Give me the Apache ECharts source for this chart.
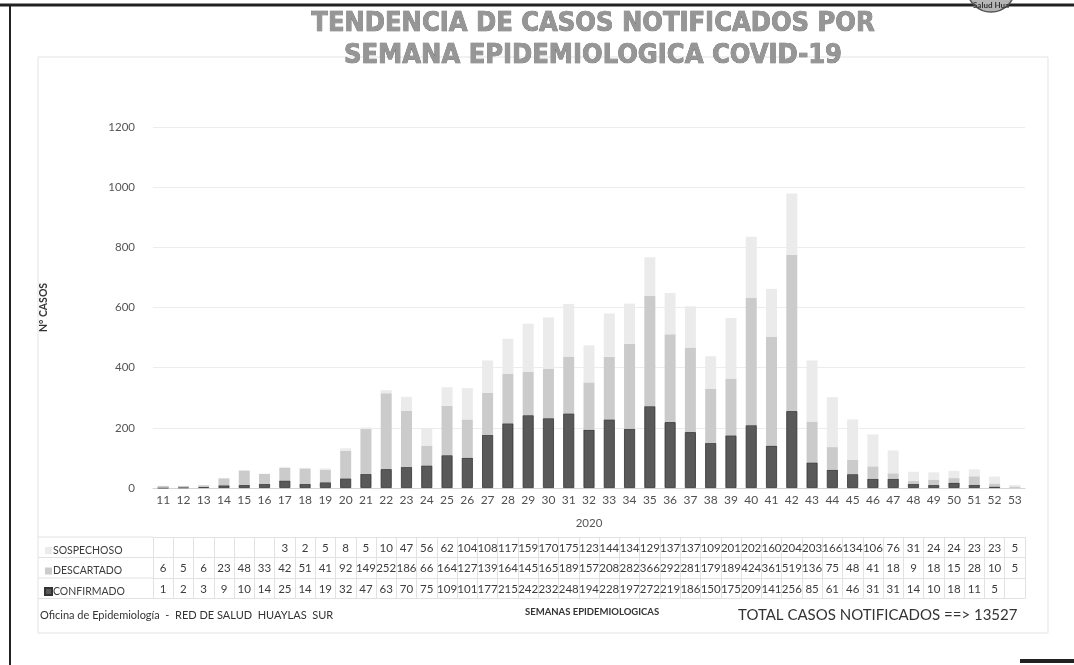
<!DOCTYPE html>
<html>
<head>
<meta charset="utf-8">
<script src="https://cdn.jsdelivr.net/npm/echarts@6/dist/echarts.min.js"></script>
<style>
  html, body { margin: 0; padding: 0; background: #fff; }
  #chart { width: 1074px; height: 665px; }
</style>
</head>
<body>
<div id="chart"></div>
<script>
// Semanas epidemiológicas 2020
const semanas = ['11','12','13','14','15','16','17','18','19','20','21','22','23','24','25','26','27','28','29','30','31','32','33','34','35','36','37','38','39','40','41','42','43','44','45','46','47','48','49','50','51','52','53'];

const confirmado = [1,2,3,9,10,14,25,14,19,32,47,63,70,75,109,101,177,215,242,232,248,194,228,197,272,219,186,150,175,209,141,256,85,61,46,31,31,14,10,18,11,5,null];
const descartado = [6,5,6,23,48,33,42,51,41,92,149,252,186,66,164,127,139,164,145,165,189,157,208,282,366,292,281,179,189,424,361,519,136,75,48,41,18,9,18,15,28,10,5];
const sospechoso = [null,null,null,null,null,null,3,2,5,8,5,10,47,56,62,104,108,117,159,170,175,123,144,134,129,137,137,109,201,202,160,204,203,166,134,106,76,31,24,24,23,23,5];

const yTicks = { min: 0, max: 1200, interval: 200 };
const totalNotificados = 13527;

const FONT = 'Lato';
const TABLE_LINE = '#e2e2e2';

// one data-table row under the plot, drawn as an extra category axis
function tableRow(values, offset, withTicks) {
  return {
    type: 'category',
    data: semanas,
    gridIndex: 0,
    position: 'bottom',
    offset: offset,
    axisLine: { show: true, lineStyle: { color: TABLE_LINE, width: 1 } },
    axisTick: { show: withTicks, length: 20.5, interval: 0, lineStyle: { color: TABLE_LINE } },
    axisLabel: {
      show: values !== null,
      interval: 0,
      margin: 5,
      fontFamily: FONT,
      fontSize: 11.5,
      color: '#3c3c3c',
      formatter: (v, i) => (values && values[i] != null ? String(values[i]) : '')
    },
    splitLine: { show: false },
    axisPointer: { show: false }
  };
}

const chart = echarts.init(document.getElementById('chart'), null, { renderer: 'canvas' });

chart.setOption({
  backgroundColor: '#ffffff',
  animation: false,
  title: {
    text: 'TENDENCIA DE CASOS NOTIFICADOS POR\nSEMANA EPIDEMIOLOGICA COVID-19',
    left: 588,
    textAlign: 'center',
    top: 3,
    textStyle: {
      fontFamily: 'DejaVu Sans Condensed',
      fontWeight: 'bold',
      fontSize: 27,
      lineHeight: 32,
      color: '#969696',
      textBorderColor: '#666',
      textBorderWidth: 0.7
    }
  },
  legend: {
    orient: 'vertical',
    left: 39,
    top: 539,
    itemWidth: 7,
    itemHeight: 7,
    itemGap: 7.5,
    icon: 'rect',
    data: ['SOSPECHOSO', 'DESCARTADO', 'CONFIRMADO'],
    textStyle: { fontFamily: FONT, fontSize: 10.5, lineHeight: 13, color: '#3c3c3c', padding: [0, 0, 0, -4] },
    selectedMode: false
  },
  grid: { left: 153, right: 49, top: 127, bottom: 177, containLabel: false },
  xAxis: [
    {
      type: 'category',
      data: semanas,
      name: '2020',
      nameLocation: 'middle',
      nameGap: 29,
      nameTextStyle: { fontFamily: FONT, fontSize: 11.5, color: '#555' },
      axisLine: { lineStyle: { color: '#d4d4d4' } },
      axisTick: { show: false },
      axisLabel: { interval: 0, margin: 6, fontFamily: FONT, fontSize: 12, color: '#505050' }
    },
    tableRow(sospechoso, 49, true),
    tableRow(descartado, 69.5, true),
    tableRow(confirmado, 90, true),
    tableRow(null, 110.5, false)
  ],
  yAxis: {
    type: 'value',
    min: yTicks.min,
    max: yTicks.max,
    interval: yTicks.interval,
    name: 'N° CASOS',
    nameLocation: 'middle',
    nameRotate: 90,
    nameGap: 104,
    nameTextStyle: { fontFamily: FONT, fontSize: 10.5, fontWeight: 'bold', color: '#333' },
    axisLine: { show: false },
    axisTick: { show: false },
    axisLabel: { margin: 18, fontFamily: FONT, fontSize: 11.5, color: '#555', formatter: v => String(v) },
    splitLine: { lineStyle: { color: '#ececec' } }
  },
  series: [
    {
      name: 'CONFIRMADO', type: 'bar', stack: 'casos', barWidth: 11,
      data: confirmado,
      itemStyle: { color: '#595959', borderColor: '#333', borderWidth: 0.8 }
    },
    {
      name: 'DESCARTADO', type: 'bar', stack: 'casos', barWidth: 11,
      data: descartado,
      itemStyle: { color: '#cbcbcb' }
    },
    {
      name: 'SOSPECHOSO', type: 'bar', stack: 'casos', barWidth: 11,
      data: sospechoso,
      itemStyle: { color: '#ebebeb' }
    }
  ],
  graphic: [
    // chart area frame
    { type: 'rect', shape: { x: 38, y: 57, width: 1010, height: 576 }, style: { fill: null, stroke: '#e3e3e3', lineWidth: 1 }, silent: true },
    // row-label column of the data table
    { type: 'line', shape: { x1: 38, y1: 537, x2: 153, y2: 537 }, style: { stroke: TABLE_LINE } },
    { type: 'line', shape: { x1: 38, y1: 557.5, x2: 153, y2: 557.5 }, style: { stroke: TABLE_LINE } },
    { type: 'line', shape: { x1: 38, y1: 578, x2: 153, y2: 578 }, style: { stroke: TABLE_LINE } },
    { type: 'line', shape: { x1: 38, y1: 598.5, x2: 153, y2: 598.5 }, style: { stroke: TABLE_LINE } },
    // footer texts
    { type: 'text', left: 40, top: 610, style: { text: 'Oficina de Epidemiología  -  RED DE SALUD  HUAYLAS  SUR', fontFamily: FONT, fontSize: 11, fill: '#333' } },
    { type: 'text', left: 525, top: 607, style: { text: 'SEMANAS EPIDEMIOLOGICAS', fontFamily: FONT, fontSize: 9.5, fontWeight: 'bold', fill: '#333' } },
    { type: 'text', left: 738, top: 608, style: { text: 'TOTAL CASOS NOTIFICADOS ==> ' + totalNotificados, fontFamily: FONT, fontSize: 15, fill: '#333' } },
    // page frame
    { type: 'line', shape: { x1: 0, y1: 5, x2: 1074, y2: 5 }, style: { stroke: '#222', lineWidth: 3 } },
    { type: 'line', shape: { x1: 10, y1: 5, x2: 10, y2: 665 }, style: { stroke: '#222', lineWidth: 2 } },
    { type: 'line', shape: { x1: 1020, y1: 661, x2: 1074, y2: 661 }, style: { stroke: '#222', lineWidth: 4 } },
    // seal in the corner
    { type: 'circle', shape: { cx: 991, cy: -12, r: 24 }, style: { fill: '#b5b5b5', stroke: '#555', lineWidth: 1.5 } },
    { type: 'text', left: 973, top: 1, style: { text: 'Salud Hua', fontFamily: FONT, fontSize: 8, fontWeight: 'bold', fill: '#333' } }
  ]
});
</script>
</body>
</html>
